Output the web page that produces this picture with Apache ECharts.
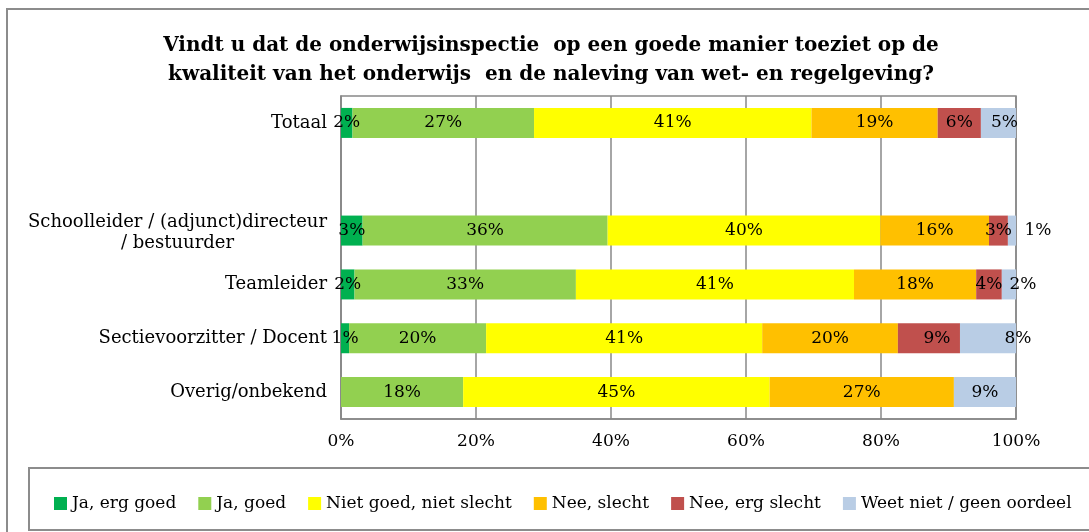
<!DOCTYPE html>
<html>
<head>
<meta charset="utf-8">
<script src="https://cdn.jsdelivr.net/npm/echarts@6/dist/echarts.min.js"></script>
<style>
  html, body { margin: 0; padding: 0; background: #fff; }
  #chart { width: 1089px; height: 532px; }
</style>
</head>
<body>
<div id="chart"></div>
<script>
// categories, top to bottom (the empty one is the gap under Totaal)
const categories = [
  "Totaal",
  "",
  "Schoolleider / (adjunct)directeur\n/ bestuurder",
  "Teamleider",
  "Sectievoorzitter / Docent",
  "Overig/onbekend"
];
const seriesNames = [
  "Ja, erg goed",
  "Ja, goed",
  "Niet goed, niet slecht",
  "Nee, slecht",
  "Nee, erg slecht",
  "Weet niet / geen oordeel"
];
// percentages per answer, same order as categories
const jaErgGoed    = [1.7, null, 3.2, 2.0, 1.2, 0];
const jaGoed       = [26.9, null, 36.3, 32.8, 20.3, 18.1];
const nietGoedNiet = [41.1, null, 40.4, 41.2, 40.9, 45.4];
const neeSlecht    = [18.7, null, 16.1, 18.1, 20.1, 27.3];
const neeErgSlecht = [6.4, null, 2.8, 3.8, 9.2, 0];
const weetNiet     = [5.2, null, 1.2, 2.1, 8.3, 9.2];
const xTicks = [0, 20, 40, 60, 80, 100];

const colors = ["#00B050", "#92D050", "#FFFF00", "#FFC000", "#C0504D", "#B9CDE5"];
const allValues = [jaErgGoed, jaGoed, nietGoedNiet, neeSlecht, neeErgSlecht, weetNiet];

// labels that were nudged to the right in the original
const labelShift = { 5: { 2: 26, 3: 14, 4: 30, 0: 6 }, 4: { 4: 8 } };

const font = "DejaVu Serif";
const chart = echarts.init(document.getElementById("chart"));

const series = allValues.map((vals, si) => ({
  name: seriesNames[si],
  type: "bar",
  stack: "total",
  barWidth: 30,
  itemStyle: { color: colors[si] },
  label: {
    show: true,
    position: "inside",
    color: "#000",
    fontFamily: font,
    fontSize: 17,
    formatter: p => (p.value ? Math.round(p.value) + "%" : "")
  },
  data: vals.map((v, ci) => {
    const shift = labelShift[si] && labelShift[si][ci];
    return shift ? { value: v, label: { offset: [shift, 0] } } : v;
  })
}));

chart.setOption({
  animation: false,
  textStyle: { fontFamily: font },
  title: {
    text: "Vindt u dat de onderwijsinspectie  op een goede manier toeziet op de\nkwaliteit van het onderwijs  en de naleving van wet- en regelgeving?",
    left: 546,
    textAlign: "center",
    top: 26,
    textStyle: { fontFamily: font, fontWeight: "bold", fontSize: 20, lineHeight: 29, color: "#000" }
  },
  graphic: [
    { type: "rect", shape: { x: 7, y: 9, width: 1100, height: 540 },
      style: { fill: null, stroke: "#8c8c8c", lineWidth: 2 }, silent: true },
    { type: "rect", shape: { x: 29, y: 468, width: 1080, height: 62 },
      style: { fill: null, stroke: "#8c8c8c", lineWidth: 2 }, silent: true }
  ],
  legend: {
    data: seriesNames,
    left: 49,
    top: 490,
    itemWidth: 13,
    itemHeight: 13,
    itemGap: 22,
    icon: "rect",
    textStyle: { fontFamily: font, fontSize: 17, color: "#000" }
  },
  grid: {
    left: 341, right: 73, top: 96, bottom: 113,
    show: true, borderColor: "#888", borderWidth: 1.5,
    containLabel: false
  },
  xAxis: {
    type: "value",
    min: 0, max: 100, interval: 20,
    axisLine: { show: true, lineStyle: { color: "#888", width: 1.5 } },
    axisTick: { show: false },
    splitLine: { show: true, lineStyle: { color: "#888", width: 1.5 } },
    axisLabel: {
      margin: 14,
      color: "#000",
      fontFamily: font,
      fontSize: 17,
      formatter: v => (xTicks.includes(v) ? v + "%" : "")
    }
  },
  yAxis: {
    type: "category",
    inverse: true,
    data: categories,
    axisLine: { show: true, lineStyle: { color: "#888", width: 1.5 } },
    axisTick: { show: false },
    axisLabel: {
      margin: 14,
      color: "#000",
      fontFamily: font,
      fontSize: 18,
      align: "right",
      formatter: v => {
        const lines = v.split("\n");
        if (lines.length === 1) return "{c|" + v + "}";
        return lines.map((s, i) => (i === 0 ? "{f|" : "{c|") + s + "}").join("\n");
      },
      rich: {
        c: { align: "center", fontFamily: font, fontSize: 18, lineHeight: 25, color: "#000" },
        f: { align: "center", fontFamily: font, fontSize: 18, lineHeight: 25, padding: [8, 0, 0, 0], color: "#000" }
      }
    }
  },
  series: series
});
</script>
</body>
</html>
